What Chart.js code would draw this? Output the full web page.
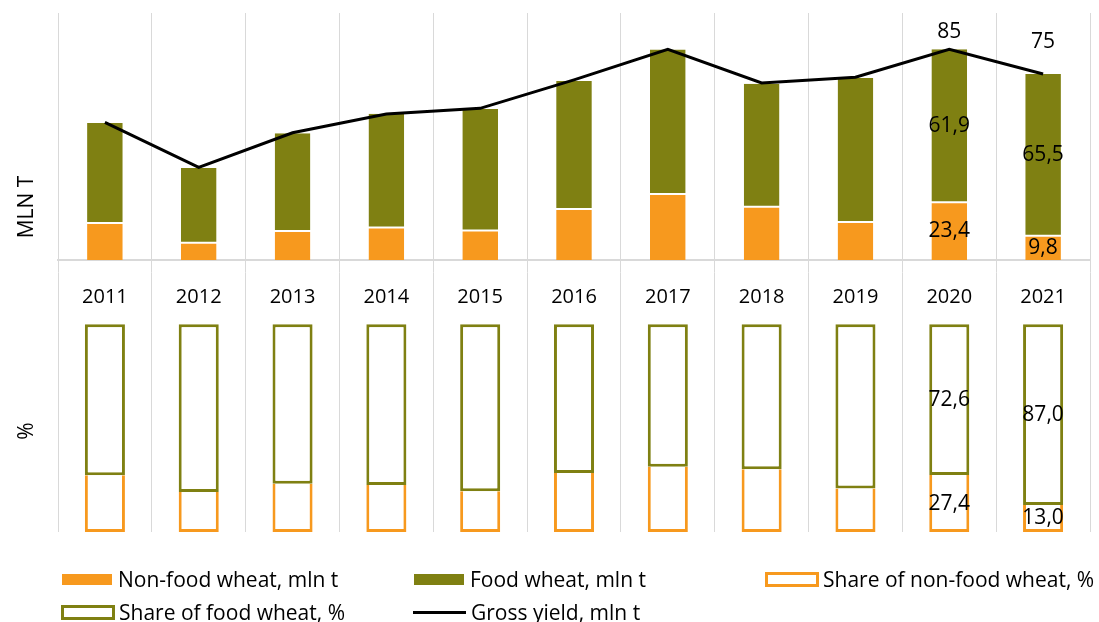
<!DOCTYPE html>
<html>
<head>
<meta charset="utf-8">
<script src="https://cdn.jsdelivr.net/npm/chart.js@4.4.1/dist/chart.umd.min.js"></script>
<style>
  html, body { margin: 0; padding: 0; background: #fff; }
  #wrap { position: relative; width: 1099px; height: 622px; overflow: hidden; font-family: "Open Sans", sans-serif; }
  #c { position: absolute; left: 0; top: 0; }
  .li { position: absolute; display: flex; align-items: center; height: 30px; font-size: 21px; color: #000; white-space: nowrap; line-height: 30px; }
  .sym { display: inline-block; box-sizing: border-box; flex: none; }
</style>
</head>
<body>
<div id="wrap">
  <canvas id="c" width="1099" height="622"></canvas>
  <div id="legend"></div>
</div>
<script>
// ---- data ----
const years = ['2011', '2012', '2013', '2014', '2015', '2016', '2017', '2018', '2019', '2020', '2021'];
const nonFoodMln   = [15.0, 7.0, 11.7, 13.2, 11.9, 20.6, 26.7, 21.6, 15.4, 23.4, 9.8];
const foodMln      = [40.5, 30.2, 39.6, 46.0, 49.2, 51.9, 58.5, 49.8, 58.3, 61.9, 65.5];
const grossYield   = [55.7, 37.5, 51.5, 59.1, 61.4, 72.9, 85.3, 71.7, 74.0, 85.3, 75.3];
const nonFoodShare = [27.3, 19.3, 23.2, 22.6, 19.6, 28.4, 31.4, 30.2, 20.9, 27.4, 13.0];
const foodShare    = [72.7, 80.7, 76.8, 77.4, 80.4, 71.6, 68.6, 69.8, 79.1, 72.6, 87.0];
const labelledYears = ['2020', '2021'];
const seriesNames = {
  nonFood: 'Non-food wheat, mln t',
  food: 'Food wheat, mln t',
  nonFoodShare: 'Share of non-food wheat, %',
  foodShare: 'Share of food wheat, %',
  gross: 'Gross yield, mln t'
};
const axisTitles = { mln: 'MLN T', pct: '%' };

// ---- styling ----
const ORANGE = '#F7991E';
const OLIVE = '#7F8012';
const GRID = '#d9d9d9';
const FONT = '"Open Sans", sans-serif';
const lineLabelLift = [17, 32];

const valueLabels = {
  id: 'valueLabels',
  afterDatasetsDraw(chart) {
    const ctx = chart.ctx;
    ctx.save();
    ctx.font = '21px ' + FONT;
    ctx.fillStyle = '#000';
    ctx.textAlign = 'center';
    ctx.textBaseline = 'middle';
    chart.data.datasets.forEach((ds, di) => {
      const meta = chart.getDatasetMeta(di);
      labelledYears.forEach((yr, k) => {
        const i = chart.data.labels.indexOf(yr);
        const el = meta.data[i];
        const v = ds.data[i];
        if (!el) return;
        if (ds.type === 'line') {
          ctx.fillText(String(Math.round(v)), el.x, el.y - lineLabelLift[k]);
        } else {
          ctx.fillText(v.toFixed(1).replace('.', ','), el.x, (el.y + el.base) / 2);
        }
      });
    });
    ctx.restore();
  }
};

const sideTitles = {
  id: 'sideTitles',
  afterDraw(chart) {
    const ctx = chart.ctx;
    const { yMln, yPct } = chart.scales;
    ctx.save();
    ctx.font = '21px ' + FONT;
    ctx.fillStyle = '#000';
    ctx.textAlign = 'center';
    ctx.textBaseline = 'middle';
    const put = (txt, x, y) => {
      ctx.save(); ctx.translate(x, y); ctx.rotate(-Math.PI / 2); ctx.fillText(txt, 0, 0); ctx.restore();
    };
    put(axisTitles.mln, yMln.left + 27, yMln.bottom - 53);
    put(axisTitles.pct, yPct.left + 27, yPct.bottom - 101);
    ctx.restore();
  }
};

const chart = new Chart(document.getElementById('c'), {
  data: {
    labels: years,
    datasets: [
      { type: 'line', label: seriesNames.gross, data: grossYield, yAxisID: 'yMln',
        borderColor: '#000', backgroundColor: '#000', borderWidth: 3, pointRadius: 0, tension: 0, fill: false, order: -1 },
      { type: 'bar', label: seriesNames.nonFood, data: nonFoodMln, yAxisID: 'yMln',
        backgroundColor: ORANGE, borderColor: '#fff', borderWidth: { top: 1, bottom: 0, left: 0, right: 0 },
        borderSkipped: false, barPercentage: 0.38, categoryPercentage: 1 },
      { type: 'bar', label: seriesNames.food, data: foodMln, yAxisID: 'yMln',
        backgroundColor: OLIVE, borderColor: '#fff', borderWidth: { top: 0, bottom: 1, left: 0, right: 0 },
        borderSkipped: false, barPercentage: 0.38, categoryPercentage: 1 },
      { type: 'bar', label: seriesNames.nonFoodShare, data: nonFoodShare, yAxisID: 'yPct',
        backgroundColor: '#fff', borderColor: ORANGE, borderWidth: { top: 0, bottom: 3, left: 3, right: 3 },
        borderSkipped: false, barPercentage: 0.427, categoryPercentage: 1 },
      { type: 'bar', label: seriesNames.foodShare, data: foodShare, yAxisID: 'yPct',
        backgroundColor: '#fff', borderColor: OLIVE, borderWidth: 3,
        borderSkipped: false, barPercentage: 0.427, categoryPercentage: 1 }
    ]
  },
  options: {
    responsive: false,
    animation: false,
    layout: { padding: { top: 13, right: 9, bottom: 90, left: 0 } },
    plugins: { legend: { display: false }, tooltip: { enabled: false } },
    scales: {
      x: {
        type: 'category', axis: 'x', position: { yMln: 0 }, stacked: true, offset: true,
        grid: { display: true, offset: true, color: GRID, lineWidth: 1, drawTicks: false },
        border: { display: true, color: GRID, width: 2 },
        ticks: { padding: 25, color: '#000', font: { family: FONT, size: 20 }, maxRotation: 0, autoSkip: false },
        afterFit(s) { s.height = 0; }
      },
      yMln: {
        type: 'linear', position: 'left', stack: 'v', stackWeight: 247, weight: 2, stacked: true,
        min: 0, max: 100,
        grid: { display: false }, border: { display: false }, ticks: { display: false },
        afterFit(s) { s.width = 58; }
      },
      yPct: {
        type: 'linear', position: 'left', stack: 'v', stackWeight: 272, weight: 1, stacked: true,
        min: 0, max: 131,
        grid: { display: false }, border: { display: false }, ticks: { display: false },
        afterFit(s) { s.width = 58; }
      }
    }
  },
  plugins: [valueLabels, sideTitles]
});

// ---- HTML legend built from the chart's datasets ----
const legendSlots = [
  { ds: 1, col: 0, row: 0 }, { ds: 2, col: 1, row: 0 }, { ds: 3, col: 2, row: 0 },
  { ds: 4, col: 0, row: 1 }, { ds: 0, col: 1, row: 1 }
];
const colX = [61, 413, 765];
const rowY = [579, 612];
const legendEl = document.getElementById('legend');
legendSlots.forEach(slot => {
  const ds = chart.data.datasets[slot.ds];
  const item = document.createElement('div');
  item.className = 'li';
  item.style.left = colX[slot.col] + 'px';
  item.style.top = (rowY[slot.row] - 15) + 'px';
  const sym = document.createElement('span');
  sym.className = 'sym';
  if (ds.type === 'line') {
    sym.style.width = '53px'; sym.style.height = '3px'; sym.style.background = ds.borderColor;
    sym.style.marginRight = '5px';
  } else if (ds.backgroundColor === '#fff') {
    sym.style.width = '54px'; sym.style.height = '15px';
    sym.style.border = '3px solid ' + ds.borderColor; sym.style.background = '#fff';
    sym.style.marginRight = '4px';
  } else {
    sym.style.width = '50px'; sym.style.height = '11px'; sym.style.background = ds.backgroundColor;
    sym.style.marginLeft = '1px'; sym.style.marginRight = '6px';
  }
  const txt = document.createElement('span');
  txt.textContent = ds.label;
  item.appendChild(sym);
  item.appendChild(txt);
  legendEl.appendChild(item);
});
</script>
</body>
</html>
